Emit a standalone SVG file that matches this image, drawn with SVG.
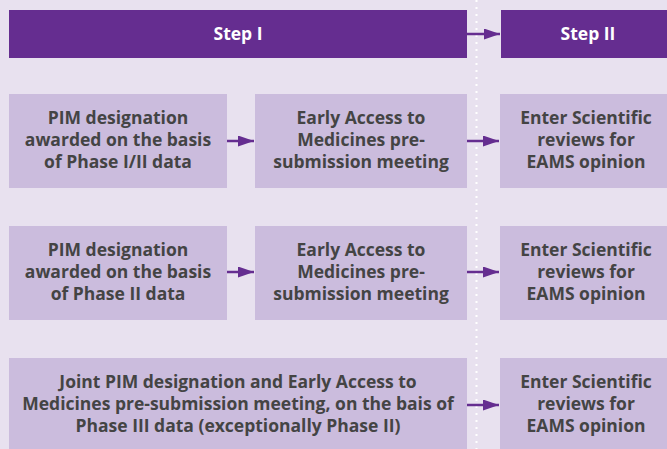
<svg xmlns="http://www.w3.org/2000/svg" width="667" height="449" viewBox="0 0 667 449">
  <style>
    .hdr { fill: #652d90; }
    .box { fill: #cbbcdd; }
    .htxt { font-family: "Open Sans", Lato, sans-serif; font-weight: bold; font-size: 17.5px; fill: #ffffff; text-anchor: middle; }
    .txt { font-family: "Open Sans", Lato, sans-serif; font-weight: bold; font-size: 17.5px; fill: #444444; text-anchor: middle; }
    .conn { stroke: #652d90; stroke-width: 2.5; fill: none; marker-end: url(#arrow); }
  </style>
  <defs>
    <marker id="arrow" viewBox="0 0 10 10" refX="10" refY="5" markerWidth="16" markerHeight="11" markerUnits="userSpaceOnUse" orient="auto" preserveAspectRatio="none">
      <path d="M0,0 L10,5 L0,10 Z" fill="#652d90"/>
    </marker>
  </defs>
  <rect width="667" height="449" fill="#e8e1ef"/>

  <!-- stage divider -->
  <line x1="476.5" y1="0" x2="476.5" y2="449" stroke="#ffffff" stroke-width="2" stroke-dasharray="2 5"/>

  <g id="step1">
    <rect class="hdr" x="9" y="10" width="458" height="48"/>
    <text class="htxt" x="238" y="40">Step I</text>
  </g>
  <g id="step2">
    <rect class="hdr" x="501" y="10" width="166" height="48"/>
    <text class="htxt" x="588" y="40">Step II</text>
  </g>

  <g id="pim1">
    <rect class="box" x="9" y="94" width="218" height="94"/>
    <text class="txt" x="118" y="124">PIM designation</text>
    <text class="txt" x="118" y="146">awarded on the basis</text>
    <text class="txt" x="118" y="168">of Phase I/II data</text>
  </g>
  <g id="eam1">
    <rect class="box" x="255" y="94" width="212" height="94"/>
    <text class="txt" x="361" y="124">Early Access to</text>
    <text class="txt" x="361" y="146">Medicines pre-</text>
    <text class="txt" x="361" y="168">submission meeting</text>
  </g>
  <g id="sci1">
    <rect class="box" x="500" y="94" width="167" height="94"/>
    <text class="txt" x="586" y="124">Enter Scientific</text>
    <text class="txt" x="586" y="146">reviews for</text>
    <text class="txt" x="586" y="168">EAMS opinion</text>
  </g>

  <g id="pim2">
    <rect class="box" x="9" y="226" width="218" height="94"/>
    <text class="txt" x="118" y="256">PIM designation</text>
    <text class="txt" x="118" y="278">awarded on the basis</text>
    <text class="txt" x="118" y="300">of Phase II data</text>
  </g>
  <g id="eam2">
    <rect class="box" x="255" y="226" width="212" height="94"/>
    <text class="txt" x="361" y="256">Early Access to</text>
    <text class="txt" x="361" y="278">Medicines pre-</text>
    <text class="txt" x="361" y="300">submission meeting</text>
  </g>
  <g id="sci2">
    <rect class="box" x="500" y="226" width="167" height="94"/>
    <text class="txt" x="586" y="256">Enter Scientific</text>
    <text class="txt" x="586" y="278">reviews for</text>
    <text class="txt" x="586" y="300">EAMS opinion</text>
  </g>

  <g id="joint3">
    <rect class="box" x="9" y="358" width="458" height="91"/>
    <text class="txt" x="238" y="388">Joint PIM designation and Early Access to</text>
    <text class="txt" x="238" y="410">Medicines pre-submission meeting, on the bais of</text>
    <text class="txt" x="238" y="432">Phase III data (exceptionally Phase II)</text>
  </g>
  <g id="sci3">
    <rect class="box" x="500" y="358" width="167" height="91"/>
    <text class="txt" x="586" y="388">Enter Scientific</text>
    <text class="txt" x="586" y="410">reviews for</text>
    <text class="txt" x="586" y="432">EAMS opinion</text>
  </g>

  <g id="connectors">
    <line class="conn" x1="467" y1="34" x2="500" y2="34"/>
    <line class="conn" x1="227" y1="141" x2="254" y2="141"/>
    <line class="conn" x1="467" y1="141" x2="499" y2="141"/>
    <line class="conn" x1="227" y1="272" x2="254" y2="272"/>
    <line class="conn" x1="467" y1="272" x2="499" y2="272"/>
    <line class="conn" x1="467" y1="405" x2="499" y2="405"/>
  </g>
</svg>
